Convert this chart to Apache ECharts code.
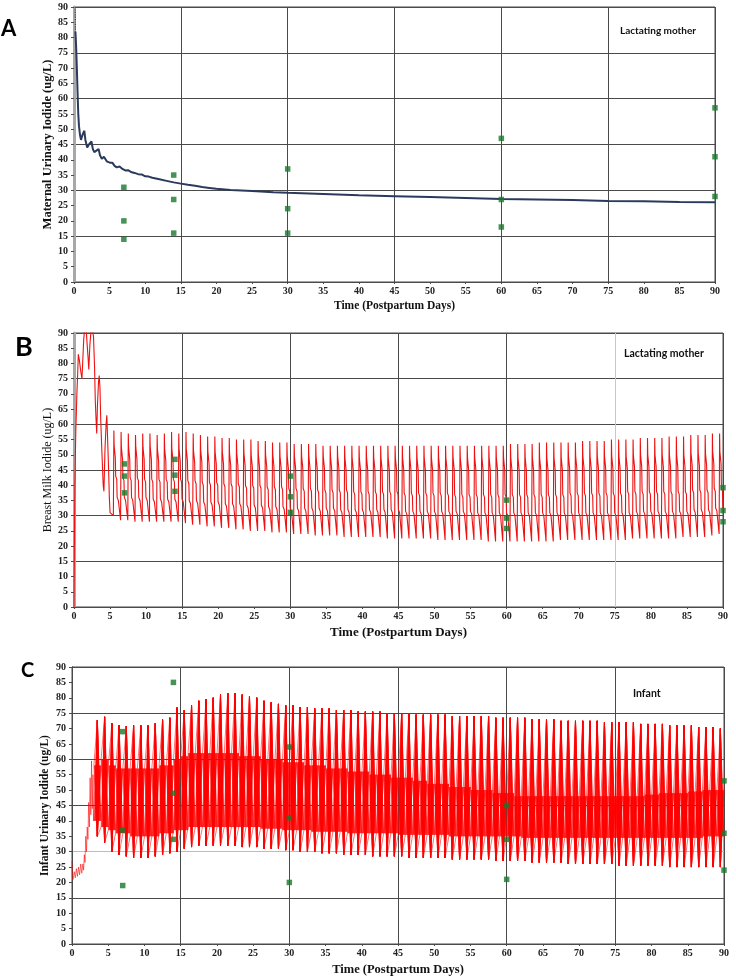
<!DOCTYPE html>
<html><head><meta charset="utf-8">
<script src="https://cdn.jsdelivr.net/npm/echarts/dist/echarts.min.js"></script>
<style>html,body{margin:0;padding:0;background:#fff;}#c{width:736px;height:979px;}</style>
</head><body><div id="c"></div>
<script>
// ---------- text ----------
const panelLetters = ['A', 'B', 'C'];
const panelNotes = ['Lactating mother', 'Lactating mother', 'Infant'];
const yTitles = ['Maternal Urinary Iodide (ug/L)', 'Breast Milk Iodide (ug/L)', 'Infant Urinary Iodide (ug/L)'];
const xTitle = 'Time (Postpartum Days)';
const axisMin = 0, axisMax = 90, tickStep = 5, gridStep = 15;

// ---------- observed data (green squares) ----------
const obsDays = [7, 7, 7, 14, 14, 14, 30, 30, 30, 60, 60, 60, 90, 90, 90];
const aObs = [31, 20, 14, 35, 27, 16, 37, 24, 16, 47, 27, 18, 57, 41, 28];
const bObs = [47, 43, 37.5, 48.5, 43.3, 38, 43, 36.2, 31.1, 35.1, 29.2, 25.8, 39.2, 31.7, 28];
const cObs = [69, 37, 19, 85, 49, 34, 64, 41, 20, 45, 34, 21, 53, 36, 24];

// ---------- panel A model curve [day, value] ----------
const aModel = [[0.2,82],[0.3,77],[0.4,70],[0.5,62],[0.6,55],[0.7,51],[0.85,48],[0.98,46.5],[1.1,47.5],[1.25,48.5],[1.45,49.5],[1.6,46.5],[1.85,44],[2.1,45],[2.45,46],[2.65,43.5],[2.85,42.5],[3.1,43],[3.45,43.5],[3.65,41.5],[3.9,40.3],[4.2,41],[4.4,41],[4.6,39.5],[4.85,39],[5.1,39],[5.4,39],[5.7,38],[6.0,37.5],[6.4,37.8],[6.8,37],[7.2,36.5],[7.6,36.6],[8,36],[8.5,35.7],[9,35.3],[9.5,35.2],[10,34.6],[10.5,34.5],[11,34.1],[12,33.6],[13,33.1],[14,32.6],[15,32.2],[16,31.8],[17,31.5],[18,31.1],[19,30.8],[20,30.5],[22,30.1],[25,29.8],[28,29.4],[30,29.2],[35,28.8],[40,28.4],[45,28.1],[50,27.8],[55,27.5],[60,27.2],[65,27],[70,26.8],[75,26.5],[80,26.4],[85,26.2],[90,26.1]];
const aOffscale = [[0.17,90],[0.2,82]];

// ---------- panel B (breast milk) ----------
const bEarly = [[0,0],[0.05,19],[0.12,40],[0.25,58],[0.4,70],[0.5,76],[0.6,83],[0.75,81],[0.9,78],[1.1,75],[1.2,80],[1.35,88],[1.5,92],[1.7,91],[1.8,87],[1.95,82],[2.05,78],[2.2,86],[2.4,92],[2.55,91],[2.7,89],[2.85,79],[2.95,68],[3.05,62],[3.15,57],[3.25,66],[3.4,74],[3.5,76],[3.6,72],[3.7,62],[3.85,52],[3.95,46],[4.05,40],[4.15,38],[4.3,52],[4.45,60],[4.55,63],[4.65,56],[4.8,45],[4.9,36],[5.0,31]];
const bFirstDay = 5;
const bPeak = [58,57.5,57,56.5,57, 57,56.5,57,57.5,57, 57.5,57,56.5,56,56, 55.5,55.5,55,55,55, 54.5,54.5,54,54,54, 53.5,53.5,53.5,53.5,53, 53,53,53,53,53, 53,53,53,53,53, 53,53,53,53,53, 53,53,53,53,53, 53,53,53,53,53, 53.5,53.5,53.5,53.5,54, 54,54,54,54,54, 54.5,54.5,54.5,54.5,55, 55,55,55,55.5,55.5, 55.5,55.5,56,56,56, 56.5,56.5,56.5,57,57];
const bTrough = [30,28.5,28.5,28,28, 28,28,28,28,28, 27.5,27,27,26.5,26.5, 26,26,25.5,25.5,25, 25,25,24.5,24.5,24.5, 24,24,24,23.5,23.5, 23.5,23.5,23,23,23, 23,23,23,22.5,22.5, 22.5,22.5,22.5,22.5,22.5, 22,22,22,22,22, 22,22,21.5,21.5,21.5, 21.5,21.5,21.5,21.5,21.5, 21.5,21.5,22,22,22, 22,22,22,22,22, 22,22,22.5,22.5,22.5, 22.5,22.5,22.5,22.5,23, 23,23,23,23.5,24];
const bHi = [49,48.5,48.5,48.5,48.5, 48.5,48,48,48,48, 48,47.5,47.5,47,47, 47,46.5,46.5,46.5,46, 46,46,46,45.5,45.5, 45.5,45.5,45.5,45.5,45.5, 45.5,45.5,45,45,45, 45,45,45,45,45, 45,45,45,45,45, 45,45,45,45,45, 45,45,45,45,45, 45,45,45,45,45, 45,45,45,45.5,45.5, 45.5,45.5,45.5,45.5,45.5, 45.5,45.5,46,46,46, 46,46,46,46,46, 46.5,46.5,46.5,47,47];
const bMid = [42,41.5,41.5,41.5,41, 41,41,41,41,41, 40.5,40.5,40,40,40, 39.5,39.5,39.5,39,39, 39,38.5,38.5,38.5,38, 38,38,38,37.5,37.5, 37.5,37.5,37.5,37,37, 37,37,37,37,37, 36.5,36.5,36.5,36.5,36.5, 36.5,36.5,36,36,36, 36,36,36,36,36, 36,36,36,36,36, 36,36,36,36.5,36.5, 36.5,36.5,36.5,36.5,36.5, 36.5,37,37,37,37, 37,37,37,37,37, 37.5,37.5,37.5,38,38];
const bLow = [35,35,35,35,35, 34.5,34.5,34.5,34.5,34.5, 34,34,33.5,33.5,33.5, 33,33,33,32.5,32.5, 32.5,32,32,32,31.5, 31.5,31.5,31.5,31.5,31.5, 31.5,31,31,31,31, 31,31,31,31,31, 30.5,30.5,30.5,30.5,30.5, 30.5,30.5,30.5,30.5,30.5, 30,30,30,30,30, 30,30,30,30,30, 30,30,30,30,30, 30,30,30,30,30, 30,30,30.5,30.5,30.5, 30.5,30.5,30.5,30.5,30.5, 31,31,31,31.5,31.5];

// ---------- panel C (infant urine) ----------
const cEarly = [[0,27],[0.05,22],[0.15,21],[0.3,23.5],[0.45,21.5],[0.6,24.5],[0.75,22],[0.9,25],[1.05,22.5],[1.2,26],[1.35,23],[1.5,26],[1.6,24],[1.7,29],[1.8,26.5],[1.9,35],[2.0,30],[2.1,38],[2.2,34],[2.3,46],[2.4,38],[2.5,54],[2.6,42],[2.7,59.5],[2.8,44],[2.9,55],[2.97,40]];
const cFirstDay = 3;
const cPeak = [72.7,73.8, 71.7,71.1,70.8,71,71, 71,71.7,72.9,73.5,76.8, 76,77.5,79,79.5,80, 81,81.5,81.5,81,80.5, 80,79,78.5,78,77.5, 77.5,77,77,76.5,76.5, 76.5,76,76,76,75.5, 75.5,75.5,75.5,75,75, 75,75,74.5,74.5,74.5, 74.5,74.5,74,74,74, 74,74,74,73.5,73.5, 73.5,73.5,73.5,73,73, 73,73,72.5,72.5,72.5, 72.5,72.5,72.5,72,72, 72,72,72,71.5,71.5, 71.5,71.5,71,71,71, 71,70.5,70.5,70.5,70];
const cTrough = [35,33, 30,29,28.5,28,28, 28,28.5,29,29.5,30, 31,31.5,32,32,32, 32,32,32,31.5,31.5, 31.5,31,31,31,30.5, 30.5,30,30,30,29.5, 29.5,29.5,29,29,29, 29,28.5,28.5,28.5,28.5, 28.5,28,28,28,28, 28,28,27.5,27.5,27.5, 27.5,27.5,27.5,27,27, 27,27,27,26.5,26.5, 26.5,26.5,26.5,26,26, 26,26,26,26,26, 25.5,25.5,25.5,25.5,25.5, 25.5,25.5,25,25,25, 25,25,25,25,25];
const cHi = [58,60, 58,57,57,57,57, 57,57,58,58,60, 61,62,62,62,62, 62,62,62,61,61, 61,60,60,60,59, 59,59,58,58,58, 57,57,57,56,56, 56,55,55,55,54, 54,54,53,53,52, 52,52,51,51,51, 50,50,50,49,49, 49,48,48,48,48, 48,48,48,48,48, 48,48,48,48,48, 48,48,48,48,48.5, 48.5,49,49,49,49, 49.5,49.5,50,50,50];
const cLo = [40,38, 37,36,36,35,35, 35,35,36,36,37, 37,38,38,38,38, 38,38,38,38,38, 38,37.5,37.5,37.5,37, 37,37,37,36.5,36.5, 36.5,36.5,36.5,36,36, 36,36,36,36,36, 35.5,35.5,35.5,35.5,35.5, 35.5,35.5,35,35,35, 35,35,35,35,35, 35,35,34.5,34.5,34.5, 34.5,34.5,34.5,34.5,34.5, 34.5,34.5,34.5,34.5,34.5, 34.5,34.5,34.5,34.5,34.5, 34.5,34.5,34.5,34.5,34.5, 34.5,34.5,35,35,35];

// ---------- build series data (path order through the read values) ----------
function buildB() {
  const out = bEarly.slice();
  for (let i = 0; i < bPeak.length; i++) {
    const p = bFirstDay + i + 0.53;
    out.push([p - 0.07, bTrough[i]], [p, bPeak[i]], [p + 0.04, bHi[i] + 4], [p + 0.2, bHi[i]],
             [p + 0.25, bMid[i] + 1], [p + 0.4, bMid[i]], [p + 0.45, bLow[i] + 1], [p + 0.62, bLow[i]]);
  }
  return out;
}
const fanSteps = [0.02, 0.12, 0.22, 0.32, 0.42, 0.58, 0.68, 0.78, 0.88, 0.98];
function buildC() {
  const out = cEarly.slice();
  for (let i = 0; i < cPeak.length; i++) {
    const d = cFirstDay + i, mid = d + 0.5;
    fanSteps.forEach(s => { out.push([d + s, cLo[i]], [mid, cPeak[i]]); });
    fanSteps.forEach(s => { out.push([d + s, cHi[i]], [mid, cTrough[i]]); });
  }
  return out;
}
const pairs = (xs, ys) => xs.map((x, i) => [x, ys[i]]);

// ---------- layout / style ----------
const grids = [
  { left: 74, top: 7, width: 641, height: 275 },
  { left: 74, top: 333, width: 649, height: 274 },
  { left: 72, top: 667, width: 652, height: 277 }
];
const dark = '#4a4a4a';
const serif = 'Liberation Serif';
const xGridColors = [
  [dark, dark, dark, dark, dark, dark, dark],
  [dark, dark, dark, dark, dark, '#c8c8c8', dark],
  [dark, dark, dark, dark, dark, dark, dark]
];
const yGridColors = [
  [dark, dark, dark, dark, dark, dark, dark],
  [dark, dark, dark, dark, dark, dark, dark],
  [dark, dark, '#bdbdbd', dark, dark, dark, dark]
];
const rightEdge = [
  { color: '#a8a8a8', width: 3 },
  { color: '#a8a8a8', width: 3 },
  { color: dark, width: 1 }
];
const yNameStyle = [
  { fontSize: 12.5, fontWeight: 'bold', gap: 18 },
  { fontSize: 12, fontWeight: 'normal', gap: 18 },
  { fontSize: 11.5, fontWeight: 'bold', gap: 19 }
];
const xNameStyle = [
  { fontSize: 11.5, gap: 16 },
  { fontSize: 13, gap: 17 },
  { fontSize: 12.5, gap: 17 }
];

const xAxes = [], yAxes = [];
grids.forEach((g, i) => {
  xAxes.push({
    gridIndex: i, type: 'value', min: axisMin, max: axisMax, interval: tickStep, position: 'bottom', offset: 2,
    axisLine: { show: true, lineStyle: { color: dark, width: 1 } },
    axisTick: { show: true, length: 2, lineStyle: { color: dark } },
    axisLabel: { fontFamily: serif, fontWeight: 'bold', fontSize: 10, color: '#222', margin: 2 },
    splitLine: { show: false },
    name: xTitle, nameLocation: 'middle', nameGap: xNameStyle[i].gap, nameMoveOverlap: false,
    nameTextStyle: { fontFamily: serif, fontWeight: 'bold', fontSize: xNameStyle[i].fontSize, color: '#111' }
  });
  xAxes.push({
    gridIndex: i, type: 'value', min: axisMin, max: axisMax, interval: gridStep, position: 'top', offset: 1,
    axisLine: { show: true, lineStyle: { color: dark, width: 1 } },
    axisTick: { show: false }, axisLabel: { show: false },
    splitLine: { show: true, lineStyle: { color: xGridColors[i], width: 1 } }
  });
  yAxes.push({
    gridIndex: i, type: 'value', min: axisMin, max: axisMax, interval: tickStep, position: 'left', offset: 2,
    axisLine: { show: true, lineStyle: { color: dark, width: 1 } },
    axisTick: { show: true, length: 3, lineStyle: { color: dark } },
    axisLabel: { fontFamily: serif, fontWeight: 'bold', fontSize: 10, color: '#222', margin: 4 },
    splitLine: { show: false },
    name: yTitles[i], nameLocation: 'middle', nameGap: yNameStyle[i].gap, nameRotate: 90, nameMoveOverlap: false,
    nameTextStyle: { fontFamily: serif, fontWeight: yNameStyle[i].fontWeight, fontSize: yNameStyle[i].fontSize, color: '#111' }
  });
  yAxes.push({
    gridIndex: i, type: 'value', min: axisMin, max: axisMax, interval: gridStep, position: 'right', offset: 1,
    axisLine: { show: true, lineStyle: rightEdge[i] },
    axisTick: { show: false }, axisLabel: { show: false },
    splitLine: { show: true, lineStyle: { color: yGridColors[i], width: 1 } }
  });
});

const squares = (data, i) => ({
  type: 'scatter', xAxisIndex: 2 * i, yAxisIndex: 2 * i, data: data,
  symbol: 'rect', symbolSize: 5.5, itemStyle: { color: '#17782b' }, z: 5, clip: false
});

const option = {
  animation: false,
  backgroundColor: '#fff',
  grid: grids.map(g => Object.assign({ show: true, borderColor: dark, borderWidth: 1, backgroundColor: 'transparent' }, g)),
  xAxis: xAxes,
  yAxis: yAxes,
  title: [
    { text: panelLetters[0], left: 1, top: 18, padding: 0, textStyle: { fontFamily: 'Lato', fontWeight: 'bold', fontSize: 22, color: '#000' } },
    { text: panelLetters[1], left: 15, top: 334, padding: 0, textStyle: { fontFamily: 'Lato', fontWeight: 'bold', fontSize: 27, color: '#000' } },
    { text: panelLetters[2], left: 21, top: 661, padding: 0, textStyle: { fontFamily: 'Lato', fontWeight: 'bold', fontSize: 20, color: '#000' } },
    { text: panelNotes[0], left: 620, top: 26, padding: 0, textStyle: { fontFamily: 'Lato', fontWeight: 'bold', fontSize: 10, color: '#111' } },
    { text: panelNotes[1], left: 624, top: 348, padding: 0, textStyle: { fontFamily: 'Lato', fontWeight: 'bold', fontSize: 10.5, color: '#111' } },
    { text: panelNotes[2], left: 633, top: 688, padding: 0, textStyle: { fontFamily: 'Lato', fontWeight: 'bold', fontSize: 10.5, color: '#111' } }
  ],
  series: [
    { type: 'line', xAxisIndex: 0, yAxisIndex: 0, data: aModel, showSymbol: false, smooth: false,
      lineStyle: { color: '#2b3a5c', width: 2 }, z: 3 },
    { type: 'line', xAxisIndex: 0, yAxisIndex: 0, data: aOffscale, showSymbol: false,
      lineStyle: { color: '#2b3a5c', width: 1.2, type: 'dotted' }, z: 3 },
    squares(pairs(obsDays, aObs), 0),
    { type: 'line', xAxisIndex: 2, yAxisIndex: 2, data: buildB(), showSymbol: false, sampling: null,
      lineStyle: { color: '#ee1111', width: 1.1 }, z: 3 },
    squares(pairs(obsDays, bObs), 1),
    { type: 'line', xAxisIndex: 4, yAxisIndex: 4, data: buildC(), showSymbol: false, sampling: null,
      lineStyle: { color: 'rgba(255,0,0,0.8)', width: 0.7 }, z: 3 },
    squares(pairs(obsDays, cObs), 2)
  ]
};
const chart = echarts.init(document.getElementById('c'), null, { renderer: 'canvas' });
chart.setOption(option);
</script>
</body></html>
